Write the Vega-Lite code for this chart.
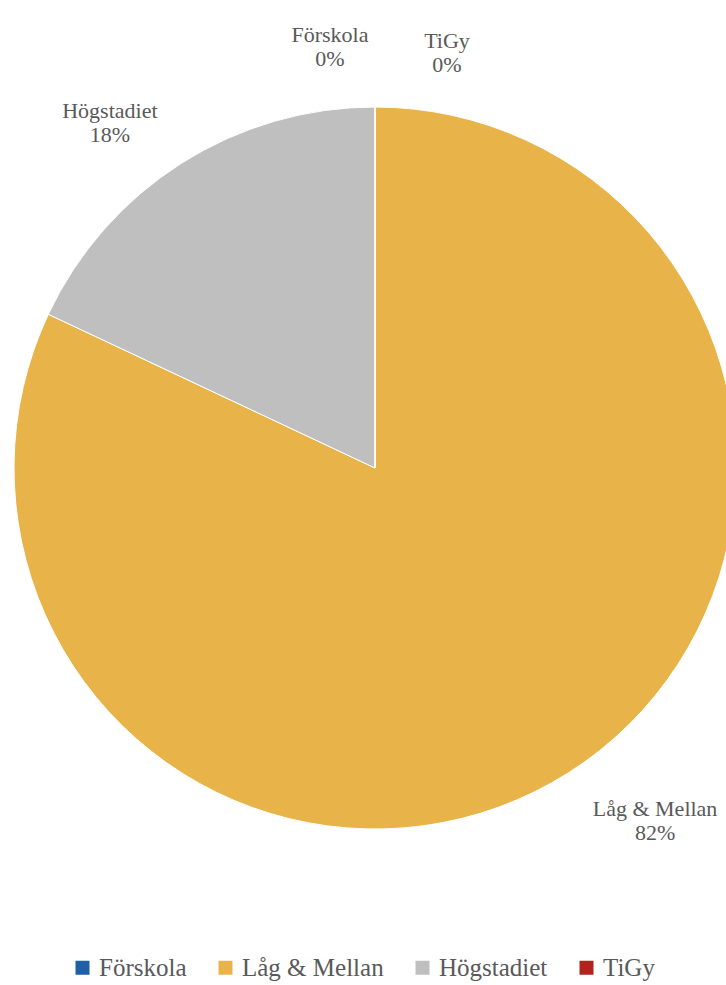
{
  "$schema": "https://vega.github.io/schema/vega-lite/v6.json",
  "width": 750,
  "height": 936,
  "autosize": {"type": "none"},
  "padding": {"left": 0, "top": 0, "right": 0, "bottom": 49},
  "background": "white",
  "config": {"view": {"stroke": null}, "font": "Liberation Serif"},
  "data": {
    "values": [
      {"k": 1, "cat": "Förskola", "v": 0},
      {"k": 2, "cat": "Låg & Mellan", "v": 82},
      {"k": 3, "cat": "Högstadiet", "v": 18},
      {"k": 4, "cat": "TiGy", "v": 0}
    ]
  },
  "transform": [
    {"calculate": "datum.cat + '\\n' + datum.v + '%'", "as": "lbl"}
  ],
  "encoding": {
    "theta": {"field": "v", "type": "quantitative", "stack": true},
    "order": {"field": "k", "type": "quantitative"}
  },
  "layer": [
    {
      "mark": {"type": "arc", "outerRadius": 361, "stroke": "white", "strokeWidth": 1},
      "encoding": {
        "color": {
          "field": "cat",
          "type": "nominal",
          "sort": ["Förskola", "Låg & Mellan", "Högstadiet", "TiGy"],
          "scale": {
            "domain": ["Förskola", "Låg & Mellan", "Högstadiet", "TiGy"],
            "range": ["#1F5FA6", "#E8B44A", "#BFBFBF", "#B0231E"]
          },
          "legend": {
            "title": null,
            "orient": "none",
            "legendX": 70,
            "legendY": 955,
            "direction": "horizontal",
            "symbolType": "square",
            "symbolSize": 196,
            "symbolStrokeWidth": 0,
            "labelFont": "Liberation Serif",
            "labelFontSize": 25,
            "labelColor": "#595959",
            "labelOffset": 4,
            "columnPadding": 26,
            "labelLimit": 300
          }
        }
      }
    },
    {
      "mark": {"type": "text", "radius": 448, "dx": 40, "dy": -37, "lineBreak": "\n", "fontSize": 22, "color": "#595959", "font": "Liberation Serif"},
      "encoding": {"text": {"condition": {"test": "datum.cat == 'Låg & Mellan'", "field": "lbl"}, "value": ""}}
    },
    {
      "mark": {"type": "text", "radius": 437, "dx": -31, "dy": 12, "lineBreak": "\n", "fontSize": 22, "color": "#595959", "font": "Liberation Serif"},
      "encoding": {"text": {"condition": {"test": "datum.cat == 'Högstadiet'", "field": "lbl"}, "value": ""}}
    },
    {
      "mark": {"type": "text", "radius": 433, "dx": -45, "dy": 0, "lineBreak": "\n", "fontSize": 22, "color": "#595959", "font": "Liberation Serif"},
      "encoding": {"text": {"condition": {"test": "datum.cat == 'Förskola'", "field": "lbl"}, "value": ""}}
    },
    {
      "mark": {"type": "text", "radius": 427, "dx": 72, "dy": 0, "lineBreak": "\n", "fontSize": 22, "color": "#595959", "font": "Liberation Serif"},
      "encoding": {"text": {"condition": {"test": "datum.cat == 'TiGy'", "field": "lbl"}, "value": ""}}
    }
  ]
}
